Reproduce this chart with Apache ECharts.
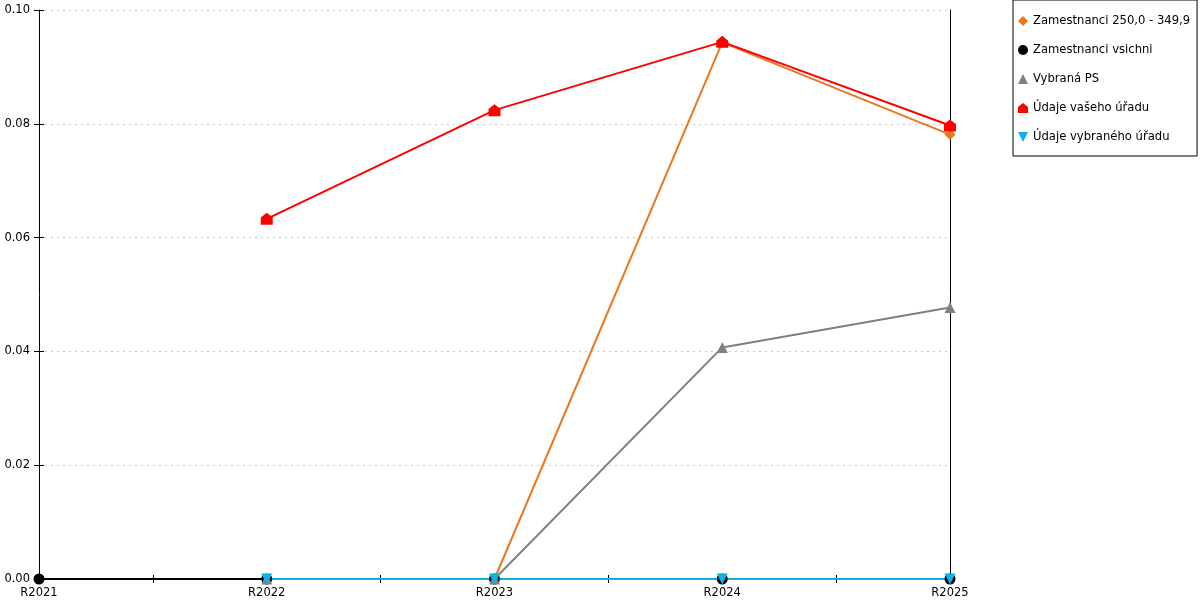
<!DOCTYPE html>
<html>
<head>
<meta charset="utf-8">
<script src="https://cdn.jsdelivr.net/npm/echarts@6/dist/echarts.min.js"></script>
<style>html,body{margin:0;padding:0;background:#fff}#c{width:1200px;height:600px}</style>
</head>
<body>
<div id="c"></div>
<script>
var categories = ['R2021', 'R2022', 'R2023', 'R2024', 'R2025'];
var yTicks = [0, 0.02, 0.04, 0.06, 0.08, 0.10];
var seriesNames = ['Zamestnanci 250,0 - 349,9', 'Zamestnanci vsichni', 'Vybraná PS', 'Údaje vašeho úřadu', 'Údaje vybraného úřadu'];
var zam250 = [null, null, 0, 0.0943, 0.0781];
var zamVsichni = [0, 0, 0, 0, 0];
var vybranaPS = [null, 0, 0, 0.0407, 0.0477];
var vaseUrad = [null, 0.0633, 0.0824, 0.0944, 0.0797];
var vybranyUrad = [null, 0, 0, 0, 0];

var FONT = 'DejaVu Sans';
var house = 'path://M0,4 L5,0 L10,4 L10,10 L0,10 Z';
var invTri = 'path://M0,0 L10,0 L5,10 Z';
var colors = ['#e8771f', '#000000', '#808080', '#ff0000', '#12aee8'];
var symbols = ['diamond', 'circle', 'triangle', house, invTri];
var sizes = [11, 11, 11, 12, 11];
var datasets = [zam250, zamVsichni, vybranaPS, vaseUrad, vybranyUrad];

function pairs(arr) { return arr.map(function (v, i) { return [i, v]; }); }

var chart = echarts.init(document.getElementById('c'), null, { renderer: 'canvas' });
var series = datasets.map(function (d, k) {
  return {
    name: seriesNames[k], type: 'line', data: pairs(d),
    xAxisIndex: 0, yAxisIndex: 0,
    symbol: symbols[k], symbolSize: sizes[k], showAllSymbol: true,
    itemStyle: { color: colors[k] },
    lineStyle: { color: colors[k], width: 2 },
    connectNulls: false, animation: false, emphasis: { disabled: true }
  };
});

chart.setOption({
  animation: false,
  textStyle: { fontFamily: FONT },
  grid: { left: 39, right: 250, top: 10, bottom: 21, containLabel: false },
  legend: {
    orient: 'vertical', left: 1013, top: 0,
    padding: [15, 7, 13, 5], itemGap: 17, itemWidth: 10, itemHeight: 10,
    borderColor: '#000', borderWidth: 1,
    textStyle: { fontFamily: FONT, fontSize: 11.6, lineHeight: 10, color: '#000' },
    selectedMode: false,
    data: seriesNames.map(function (n, k) { return { name: n, icon: symbols[k], itemStyle: { color: colors[k] } }; })
  },
  xAxis: [{
    type: 'value', min: 0, max: 4, interval: 0.5,
    axisLine: { show: true, lineStyle: { color: '#000', width: 1 } },
    axisTick: { show: true, length: 4, lineStyle: { color: '#000' } },
    axisLabel: { color: '#000', fontSize: 11.5, fontFamily: FONT, margin: 8,
      formatter: function (v) { return Number.isInteger(v) ? categories[v] : ''; } },
    splitLine: { show: false }
  }, {
    type: 'value', min: 0, max: 4, interval: 0.5, position: 'bottom',
    axisLine: { show: false },
    axisTick: { show: true, inside: true, length: 4, lineStyle: { color: '#000' } },
    axisLabel: { show: false }, splitLine: { show: false }
  }],
  yAxis: [{
    type: 'value', min: yTicks[0], max: yTicks[yTicks.length - 1], interval: 0.02,
    axisLine: { show: true, lineStyle: { color: '#000', width: 1 } },
    axisTick: { show: true, length: 5, lineStyle: { color: '#000' } },
    axisLabel: { color: '#000', fontSize: 11.5, fontFamily: FONT, margin: 9,
      formatter: function (v) { return v.toFixed(2); } },
    splitLine: { show: true, lineStyle: { color: '#c8c8c8', type: [2, 4], width: 1 } }
  }, {
    type: 'value', min: 0, max: 0.1, interval: 0.02, position: 'left',
    axisLine: { show: false },
    axisTick: { show: true, inside: true, length: 5, lineStyle: { color: '#000' } },
    axisLabel: { show: false }, splitLine: { show: false }
  }, {
    type: 'value', min: 0, max: 0.1, interval: 0.02, position: 'right',
    axisLine: { show: true, lineStyle: { color: '#000', width: 1 } },
    axisTick: { show: false }, axisLabel: { show: false }, splitLine: { show: false }
  }],
  series: series
});
</script>
</body>
</html>
